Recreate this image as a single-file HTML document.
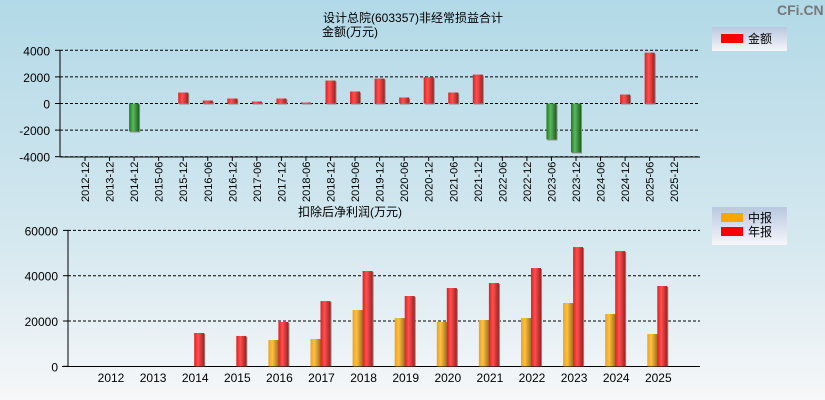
<!DOCTYPE html>
<html><head><meta charset="utf-8"><style>
body{margin:0;width:825px;height:400px;overflow:hidden;background:linear-gradient(#b2d9e7,#d5e8ef 60%,#f6f7f9);font-family:"Liberation Sans","Noto Sans CJK SC",sans-serif}
svg{position:absolute;left:0;top:0}
text{font-family:"Liberation Sans","Noto Sans CJK SC",sans-serif;font-size:12px;fill:#000}
</style></head><body>
<svg id="c" width="825" height="400">
<defs>
<linearGradient id="gr" x1="0" x2="1"><stop offset="0" stop-color="#e02020"/><stop offset=".4" stop-color="#ff5050"/><stop offset="1" stop-color="#a02020"/></linearGradient>
<linearGradient id="gg" x1="0" x2="1"><stop offset="0" stop-color="#1e7a1e"/><stop offset=".4" stop-color="#5cb85c"/><stop offset="1" stop-color="#1a601a"/></linearGradient>
<linearGradient id="gy" x1="0" x2="1"><stop offset="0" stop-color="#f0a020"/><stop offset=".4" stop-color="#ffc040"/><stop offset="1" stop-color="#a07020"/></linearGradient>
<linearGradient id="lg" x1="0" y1="0" x2="0" y2="1"><stop offset="0" stop-color="#b8c8e0"/><stop offset="1" stop-color="#f6f6fa"/></linearGradient>
</defs>
<text x="777" y="15" style="font-size:14px;font-weight:bold;fill:#777">CFi.CN</text>
<text x="323" y="22">设计总院(603357)非经常损益合计</text>
<text x="322" y="36">金额(万元)</text>
<text x="298" y="216">扣除后净利润(万元)</text>
<g><rect x="712" y="27" width="75" height="24" fill="url(#lg)"/><rect x="721" y="34" width="22" height="9" fill="#f00"/><text x="748" y="43">金额</text></g>
<g><rect x="712" y="207" width="75" height="38" fill="url(#lg)"/><rect x="721" y="213" width="22" height="9" fill="#ffa500"/><text x="748" y="222">中报</text><rect x="721" y="227" width="22" height="9" fill="#f00"/><text x="748" y="236">年报</text></g>
<g id="top"></g><g id="bot"></g>
</svg>
<script>
const topCats=["2012-12","2013-12","2014-12","2015-06","2015-12","2016-06","2016-12","2017-06","2017-12","2018-06","2018-12","2019-06","2019-12","2020-06","2020-12","2021-06","2021-12","2022-06","2022-12","2023-06","2023-12","2024-06","2024-12","2025-06","2025-12"];
const topVals=[0,0,-2100,0,825,225,375,150,375,75,1725,900,1875,450,1975,825,2175,0,0,-2700,-3675,0,675,3825,0];
const topTicks=[4000,2000,0,-2000,-4000];
const botCats=["2012","2013","2014","2015","2016","2017","2018","2019","2020","2021","2022","2023","2024","2025"];
const midVals=[0,0,0,0,11600,12060,24850,21320,19560,20440,21320,27940,23090,14260];
const annVals=[0,0,14700,13400,19560,28800,42060,31030,34560,36760,43380,52650,50880,35440];
const botTicks=[60000,40000,20000,0];
const NS="http://www.w3.org/2000/svg";
function mk(p,t,a){const e=document.createElementNS(NS,t);for(const k in a)e.setAttribute(k,a[k]);p.appendChild(e);return e;}
const T=document.getElementById('top'),B=document.getElementById('bot');
const ty=v=>103.5-v*13.3/1000, tx=i=>85+i*24.55;
topTicks.forEach(v=>{const y=ty(v);
 const l=mk(T,'line',{x1:60,x2:700,y1:y,y2:y,stroke:'#000','stroke-dasharray':'3,2'});
 
 
 const t=mk(T,'text',{x:50,y:y+5,'text-anchor':'end'});t.textContent=v;
 
 
 mk(T,'line',{x1:55,x2:60,y1:y,y2:y,stroke:'#000'});});
mk(T,'line',{x1:60,x2:60,y1:50,y2:157,stroke:'#000'});
mk(T,'line',{x1:60,x2:700,y1:157,y2:157,stroke:'#000'});
topCats.forEach((c,i)=>{const x=tx(i);mk(T,'line',{x1:x,x2:x,y1:157,y2:161,stroke:'#000'});
 const t=mk(T,'text',{x:0,y:0,transform:`translate(${x+4},202) rotate(-90)`,style:'font-size:11px'});t.textContent=c;
 
 
 const v=topVals[i];if(v===0)return;const y0=ty(0),y1=ty(v);
 mk(T,'rect',{x:x-4,y:Math.min(y0,y1)+1,width:10,height:Math.abs(y1-y0),fill:'#888'});
 const r=mk(T,'rect',{x:x-5,y:Math.min(y0,y1),width:10,height:Math.abs(y1-y0),fill:v>0?'url(#gr)':'url(#gg)'});
 
 });
const by=v=>366.3-v*45.3/20000, bx=i=>111+i*42.1;
botTicks.forEach(v=>{const y=by(v);
 if(v!==0){const l=mk(B,'line',{x1:68,x2:700,y1:y,y2:y,stroke:'#000','stroke-dasharray':'3,2'});
 
 }
 const t=mk(B,'text',{x:58,y:y+5,'text-anchor':'end'});t.textContent=v;
 
 
 mk(B,'line',{x1:63,x2:68,y1:y,y2:y,stroke:'#000'});});
mk(B,'line',{x1:68,x2:68,y1:230,y2:367,stroke:'#000'});
mk(B,'line',{x1:62,x2:700,y1:366.5,y2:366.5,stroke:'#000'});
botCats.forEach((c,i)=>{const x=bx(i);
 const t=mk(B,'text',{x:x,y:382,'text-anchor':'middle'});t.textContent=c;
 
 
 [[midVals[i],x-11,'url(#gy)','mid'],[annVals[i],x-1,'url(#gr)','annual']].forEach(([v,x0,f,n])=>{if(!v)return;const y=by(v);
  mk(B,'rect',{x:x0+1,y:y+1,width:10,height:by(0)-y-1,fill:'#888'});
  const r=mk(B,'rect',{x:x0,y:y,width:10,height:by(0)-y,fill:f});
  
  });});
</script>
</body></html>
